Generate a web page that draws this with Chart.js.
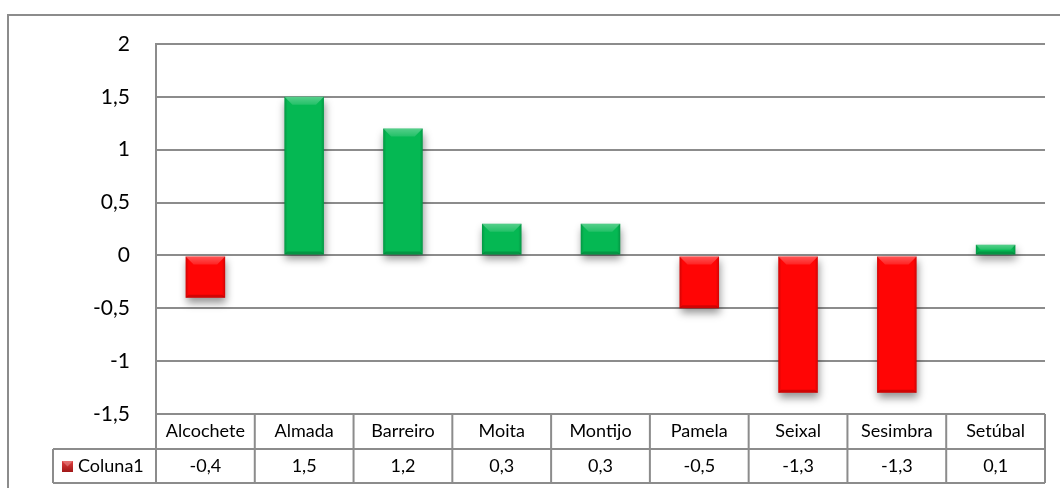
<!DOCTYPE html>
<html>
<head>
<meta charset="utf-8">
<script src="https://cdn.jsdelivr.net/npm/chart.js@4.4.1/dist/chart.umd.min.js"></script>
<style>
  html, body { margin: 0; padding: 0; background: #fff; }
  #wrap { width: 1060px; height: 488px; }
</style>
</head>
<body>
<div id="wrap"><canvas id="salesChart" width="1060" height="488"></canvas></div>
<script>
const municipios = ['Alcochete', 'Almada', 'Barreiro', 'Moita', 'Montijo', 'Pamela', 'Seixal', 'Sesimbra', 'Setúbal'];
const coluna1 = [-0.4, 1.5, 1.2, 0.3, 0.3, -0.5, -1.3, -1.3, 0.1];
const seriesName = 'Coluna1';
const yMin = -1.5, yMax = 2, yStep = 0.5;

const FONT = 'Lato, "Open Sans", sans-serif';
const LINE = '#8c8c8c';
const GREEN = '#05b853';
const RED = '#ff0505';

const fmt = v => String(Math.round(v * 10) / 10).replace('.', ',');

// outer frame of the chart object
const framePlugin = {
    id: 'frame',
    beforeDraw(chart) {
        const ctx = chart.ctx;
        ctx.save();
        ctx.fillStyle = '#fff';
        ctx.fillRect(0, 0, chart.width, chart.height);
        ctx.strokeStyle = LINE;
        ctx.lineWidth = 2;
        ctx.strokeRect(8, 15, chart.width + 20, chart.height + 20);
        ctx.restore();
    }
};

// soft drop shadow under the columns, then a bevel on top of each
const bevelPlugin = {
    id: 'bevel',
    beforeDatasetsDraw(chart) {
        const ctx = chart.ctx;
        ctx.save();
        ctx.shadowColor = 'rgba(0,0,0,0.42)';
        ctx.shadowBlur = 8;
        ctx.shadowOffsetX = 1;
        ctx.shadowOffsetY = 5;
    },
    afterDatasetsDraw(chart) {
        const ctx = chart.ctx;
        ctx.restore();
        const meta = chart.getDatasetMeta(0);
        meta.data.forEach((bar) => {
            const p = bar.getProps(['x', 'y', 'base', 'width'], true);
            const l = p.x - p.width / 2, r = p.x + p.width / 2;
            const t = Math.min(p.y, p.base), b = Math.max(p.y, p.base);
            const h = b - t;
            const d = Math.min(8, h / 2);
            ctx.save();
            // darker side edges
            const side = ctx.createLinearGradient(l, 0, r, 0);
            side.addColorStop(0, 'rgba(0,0,0,0.18)');
            side.addColorStop(0.08, 'rgba(0,0,0,0.0)');
            side.addColorStop(0.92, 'rgba(0,0,0,0.0)');
            side.addColorStop(1, 'rgba(0,0,0,0.18)');
            ctx.fillStyle = side;
            ctx.fillRect(l, t, r - l, h);
            // light top bevel
            const top = ctx.createLinearGradient(0, t, 0, t + d);
            top.addColorStop(0, 'rgba(255,255,255,0.32)');
            top.addColorStop(1, 'rgba(255,255,255,0.12)');
            ctx.fillStyle = top;
            ctx.beginPath();
            ctx.moveTo(l, t);
            ctx.lineTo(r, t);
            ctx.lineTo(r - d, t + d);
            ctx.lineTo(l + d, t + d);
            ctx.closePath();
            ctx.fill();
            // darker bottom edge
            const bd = Math.min(3, h / 3);
            ctx.fillStyle = 'rgba(0,0,0,0.18)';
            ctx.beginPath();
            ctx.moveTo(l, b);
            ctx.lineTo(r, b);
            ctx.lineTo(r - bd, b - bd);
            ctx.lineTo(l + bd, b - bd);
            ctx.closePath();
            ctx.fill();
            ctx.restore();
        });
    }
};

// data table under the plot area
const tablePlugin = {
    id: 'dataTable',
    afterDraw(chart) {
        const ctx = chart.ctx;
        const xs = chart.scales.x;
        const area = chart.chartArea;
        const n = municipios.length;
        const colW = (area.right - area.left) / n;
        const row1 = area.bottom, row2 = area.bottom + 35, row3 = area.bottom + 69;
        const legL = 53;

        ctx.save();
        ctx.strokeStyle = LINE;
        ctx.lineWidth = 2;
        ctx.beginPath();
        ctx.moveTo(area.left, row1); ctx.lineTo(area.right, row1);
        ctx.moveTo(legL, row2); ctx.lineTo(area.right, row2);
        ctx.moveTo(legL, row3); ctx.lineTo(area.right, row3);
        ctx.moveTo(legL, row2); ctx.lineTo(legL, row3);
        for (let i = 0; i <= n; i++) {
            const x = area.left + i * colW;
            ctx.moveTo(x, row1); ctx.lineTo(x, row3);
        }
        ctx.stroke();

        ctx.fillStyle = '#000';
        ctx.font = '18px ' + FONT;
        ctx.textAlign = 'center';
        ctx.textBaseline = 'middle';
        municipios.forEach((name, i) => {
            const cx = xs.getPixelForValue(i);
            ctx.fillText(name, cx, (row1 + row2) / 2);
            ctx.fillText(fmt(coluna1[i]), cx, (row2 + row3) / 2);
        });

        // legend key
        const kx = 62, ky = 461, ks = 11;
        const g = ctx.createLinearGradient(0, ky, 0, ky + ks);
        g.addColorStop(0, '#e04040');
        g.addColorStop(1, '#a01818');
        ctx.fillStyle = g;
        ctx.fillRect(kx, ky, ks, ks);
        ctx.fillStyle = 'rgba(255,255,255,0.25)';
        ctx.beginPath();
        ctx.moveTo(kx, ky); ctx.lineTo(kx + ks, ky);
        ctx.lineTo(kx + ks / 2, ky + ks / 2);
        ctx.closePath();
        ctx.fill();
        ctx.fillStyle = '#000';
        ctx.textAlign = 'left';
        ctx.fillText(seriesName, 78, (row2 + row3) / 2);
        ctx.restore();
    }
};

new Chart(document.getElementById('salesChart').getContext('2d'), {
    type: 'bar',
    data: {
        labels: municipios,
        datasets: [{
            label: seriesName,
            data: coluna1,
            backgroundColor: coluna1.map(v => v >= 0 ? GREEN : RED),
            borderWidth: 0,
            categoryPercentage: 1,
            barPercentage: 0.4
        }]
    },
    options: {
        responsive: false,
        animation: false,
        devicePixelRatio: 1,
        layout: { padding: { left: 0, top: 44, right: 15, bottom: 74 } },
        plugins: {
            legend: { display: false },
            tooltip: { enabled: false }
        },
        scales: {
            x: { display: false },
            y: {
                min: yMin,
                max: yMax,
                afterFit: (scale) => { scale.width = 156; },
                ticks: {
                    stepSize: yStep,
                    padding: 26,
                    color: '#000',
                    font: { family: FONT, size: 21 },
                    callback: (value) => fmt(value)
                },
                grid: { color: LINE, lineWidth: 2, drawTicks: false },
                border: { color: LINE, width: 2 }
            }
        }
    },
    plugins: [framePlugin, bevelPlugin, tablePlugin]
});
</script>
</body>
</html>
